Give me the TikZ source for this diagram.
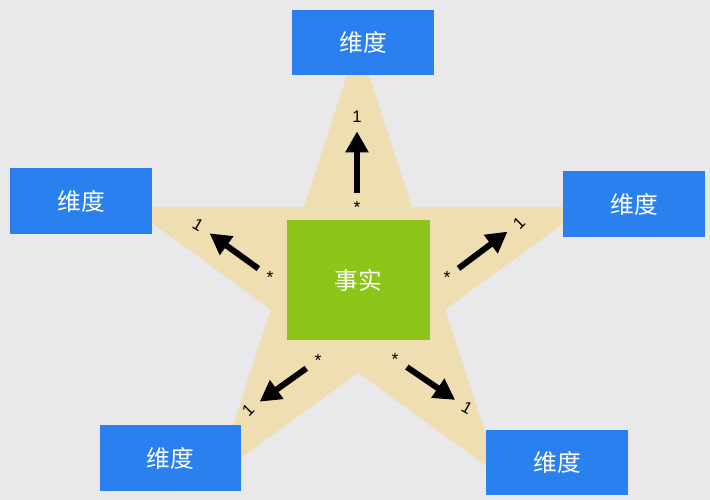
\documentclass[tikz,border=0pt]{standalone}
\usepackage{fontspec}
\setmainfont{Liberation Sans}
\newfontfamily\cjk{Noto Sans CJK SC}
\usepackage{xcolor}
\usetikzlibrary{arrows.meta}

\definecolor{bgcol}{HTML}{E9E9EB}
\definecolor{starcol}{HTML}{EEDEB2}
\definecolor{dimblue}{HTML}{2B80F0}
\definecolor{factgreen}{HTML}{8CC41A}

\begin{document}
\begin{tikzpicture}[x=0.02cm, y=-0.02cm, >={Triangle[length=0.42cm,width=0.44cm]}]

	\tikzstyle{dim}=[rectangle,fill=dimblue,text=white,minimum width=2.84cm,minimum height=1.31cm,font=\cjk\fontsize{13.5}{16}\selectfont]
	\tikzstyle{fact}=[rectangle,fill=factgreen,text=white,minimum width=2.86cm,minimum height=2.4cm,font=\cjk\fontsize{13.5}{16}\selectfont]
	\tikzstyle{many}=[circle,inner sep=0pt,minimum size=0.56cm,font=\fontsize{10}{11}\selectfont]
	\tikzstyle{one}=[circle,inner sep=0pt,minimum size=0.56cm,font=\fontsize{9.5}{10}\selectfont]
	\tikzstyle{link}=[->,line width=0.12cm]

	\fill[bgcol] (0,0) rectangle (710,500);
	% the star
	\fill[starcol,shift={(358,281)}] (-90:240) -- (-54:91.7) -- (-18:240) -- (18:91.7)
		-- (54:240) -- (90:91.7) -- (126:240) -- (162:91.7) -- (198:240) -- (234:91.7) -- cycle;

	\node[fact] (F) at (358.5,280) {事实};
	\node[dim] (D1) at (363,42.5) {维度};
	\node[dim] (D2) at (81,201) {维度};
	\node[dim] (D3) at (634,204) {维度};
	\node[dim] (D4) at (170.5,458) {维度};
	\node[dim] (D5) at (557,462.5) {维度};

	\node[many] (m1) at (357,207) {*};
	\node[one] (o1) at (357,117) {1};
	\node[many] (m2) at (270,277) {*};
	\node[one,rotate=-30] (o2) at (198,225) {1};
	\node[many] (m3) at (447,277) {*};
	\node[one,rotate=45] (o3) at (519,223) {1};
	\node[many] (m4) at (318,360) {*};
	\node[one,rotate=45] (o4) at (248,410) {1};
	\node[many] (m5) at (395,359) {*};
	\node[one,rotate=-30] (o5) at (467,408) {1};

	% From the fact to every dimension
	\path (m1) edge[link] (o1);
	\path (m2) edge[link] (o2);
	\path (m3) edge[link] (o3);
	\path (m4) edge[link] (o4);
	\path (m5) edge[link] (o5);

\end{tikzpicture}
\end{document}
